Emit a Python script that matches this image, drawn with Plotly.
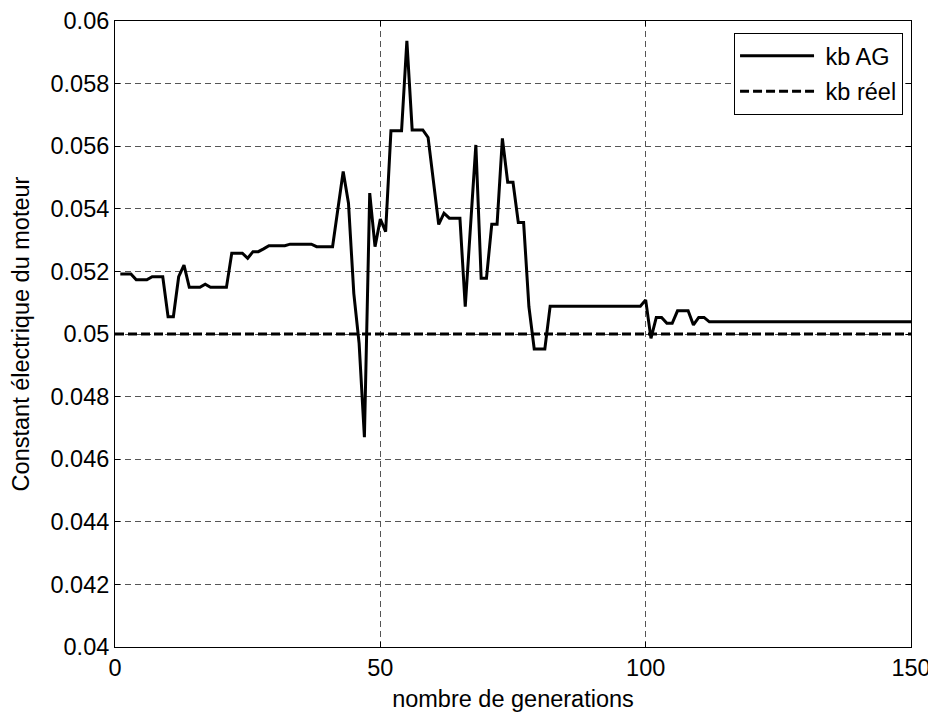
import plotly.graph_objects as go

# kb AG trace (vertices)
gen = [1, 3, 4, 6, 7, 9, 10, 11, 12, 13, 14, 16, 17, 18, 21, 22, 24, 25, 26, 27,
       28, 29, 32, 33, 37, 38, 41, 43, 44, 45, 46, 47, 48, 49, 50, 51, 52, 54, 55, 56,
       58, 59, 61, 62, 63, 65, 66, 68, 69, 70, 71, 72, 73, 74, 75, 76, 77, 78, 79, 81,
       82, 99, 100, 101, 102, 103, 104, 105, 106, 108, 109, 110, 111, 112, 150]
kb_ag = [0.05192, 0.05192, 0.05173, 0.05173, 0.05183, 0.05183, 0.05055, 0.05055, 0.05183, 0.0522,
         0.05149, 0.05149, 0.05159, 0.05149, 0.05149, 0.05258, 0.05258, 0.05242, 0.05263, 0.05263,
         0.05272, 0.05282, 0.05282, 0.05287, 0.05287, 0.05279, 0.05279, 0.05519, 0.05418, 0.0513,
         0.0497, 0.0467, 0.0545, 0.05279, 0.05367, 0.05327, 0.05649, 0.05649, 0.05937, 0.05652,
         0.05652, 0.05628, 0.0535, 0.05386, 0.0537, 0.0537, 0.05087, 0.05604, 0.05178, 0.05178,
         0.05351, 0.05351, 0.05625, 0.05485, 0.05485, 0.05356, 0.05356, 0.05087, 0.04952, 0.04952,
         0.05089, 0.05089, 0.05109, 0.04986, 0.05053, 0.05053, 0.05034, 0.05034, 0.05074, 0.05074,
         0.05029, 0.05053, 0.05053, 0.05039, 0.05039]

# kb réel reference
gen_ref = [0, 150]
kb_reel = [0.05, 0.05]

xticks = [0, 50, 100, 150]
yticks = [0.04, 0.042, 0.044, 0.046, 0.048, 0.05, 0.052, 0.054, 0.056, 0.058, 0.06]
yticklabels = ["0.04", "0.042", "0.044", "0.046", "0.048", "0.05", "0.052", "0.054", "0.056", "0.058", "0.06"]

FONT = "Liberation Sans, Arial, sans-serif"
FS = 23.5

fig = go.Figure()
fig.add_trace(go.Scatter(x=gen, y=kb_ag, mode="lines", name=" kb AG", legendgroup="a",
                         line=dict(color="black", width=3)))
fig.add_trace(go.Scatter(x=gen_ref, y=kb_reel, mode="lines", name=" kb réel", legendgroup="b",
                         line=dict(color="black", width=3, dash="9px,4px")))

axis_common = dict(showline=True, linecolor="black", linewidth=1, mirror="ticks",
                   ticks="inside", ticklen=5, tickcolor="black", automargin=False,
                   showgrid=True, gridcolor="#555", gridwidth=1, griddash="6px,4px",
                   zeroline=False, tickfont=dict(size=FS, color="black", family=FONT))

fig.update_xaxes(range=[0, 150], tickvals=xticks, ticktext=[str(v) for v in xticks],
                 title=dict(text="nombre de generations", font=dict(size=FS, color="black", family=FONT), standoff=12),
                 **axis_common)
fig.update_yaxes(range=[0.04, 0.06], tickvals=yticks, ticktext=yticklabels,
                 title=dict(text="Constant électrique du moteur", font=dict(size=FS, color="black", family=FONT), standoff=17),
                 **axis_common)

# page body has an 8px default margin, so the figure is offset by (8, 8)
fig.update_layout(template="none", width=928, height=704, margin=dict(l=107, r=25, t=13, b=65),
                  paper_bgcolor="white", plot_bgcolor="white",
                  font=dict(family=FONT, size=FS, color="black"),
                  legend=dict(x=0.99, y=0.981, xanchor="right", yanchor="top",
                              bgcolor="white", bordercolor="black", borderwidth=1,
                              itemwidth=74, traceorder="grouped", tracegroupgap=2,
                              font=dict(size=FS, color="black", family=FONT)),
                  showlegend=True)

fig.write_html("out.html")
